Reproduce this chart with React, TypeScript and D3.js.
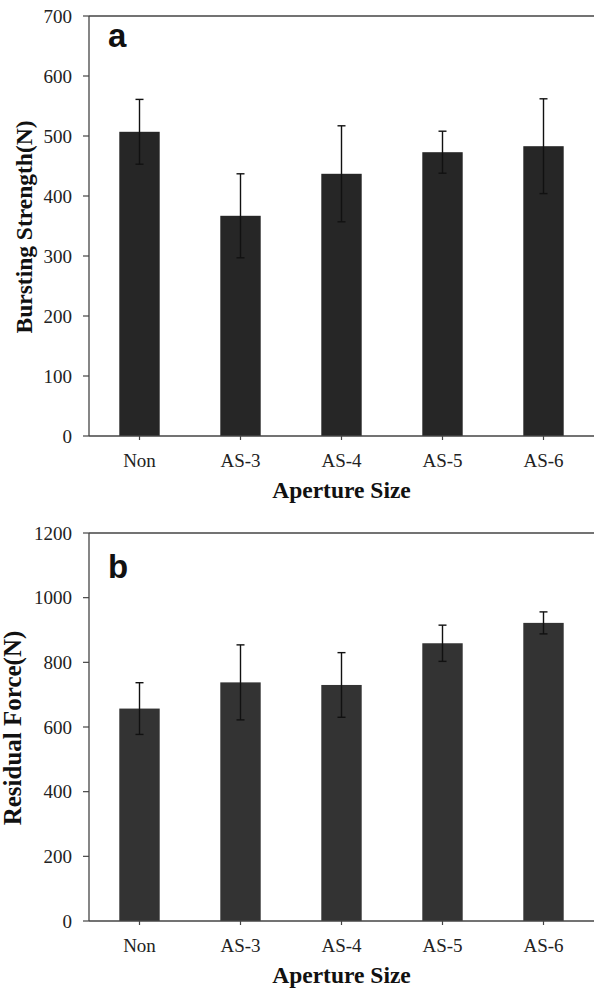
import React from 'react';
import { scaleBand, scaleLinear, range } from 'd3';

const categories = ['Non', 'AS-3', 'AS-4', 'AS-5', 'AS-6'];

const burstMean = [507, 367, 437, 473, 483];
const burstErr = [54, 70, 80, 35, 79];
const burstTicks = range(0, 701, 100);

const residualMean = [657, 738, 730, 859, 922];
const residualErr = [80, 116, 100, 56, 34];
const residualTicks = range(0, 1201, 200);

const W = 594;
const H = 989;
const LEFT = 89;
const SERIF = '"Liberation Serif", "Times New Roman", serif';
const SANS = '"Liberation Sans", Arial, sans-serif';
const AXIS = '#444';

type PanelProps = {
  letter: string;
  letterY: number;
  yTitle: string;
  yTitleX: number;
  yTitleSize: number;
  means: number[];
  errs: number[];
  ticks: number[];
  top: number;
  bottom: number;
  barColor: string;
};

const Panel: React.FC<PanelProps> = ({
  letter,
  letterY,
  yTitle,
  yTitleX,
  yTitleSize,
  means,
  errs,
  ticks,
  top,
  bottom,
  barColor,
}) => {
  const x = scaleBand<string>()
    .domain(categories)
    .range([LEFT, W])
    .paddingInner(0.6)
    .paddingOuter(0.3);
  const y = scaleLinear()
    .domain([0, ticks[ticks.length - 1]])
    .range([bottom, top]);
  const bw = x.bandwidth();
  const cap = 4;

  return (
    <g>
      {/* bars */}
      {categories.map((c, i) => (
        <rect
          key={c}
          x={x(c)}
          y={y(means[i])}
          width={bw}
          height={y(0) - y(means[i])}
          fill={barColor}
        />
      ))}
      {/* error bars */}
      {categories.map((c, i) => {
        const cx = (x(c) ?? 0) + bw / 2;
        const hi = y(means[i] + errs[i]);
        const lo = y(means[i] - errs[i]);
        return (
          <g key={c} stroke="#111" strokeWidth={1.4}>
            <line x1={cx} x2={cx} y1={hi} y2={lo} />
            <line x1={cx - cap} x2={cx + cap} y1={hi} y2={hi} />
            <line x1={cx - cap} x2={cx + cap} y1={lo} y2={lo} />
          </g>
        );
      })}
      {/* frame */}
      <line x1={LEFT} x2={W} y1={top} y2={top} stroke={AXIS} strokeWidth={1.3} />
      <line x1={LEFT} x2={W} y1={bottom} y2={bottom} stroke={AXIS} strokeWidth={1.3} />
      <line x1={LEFT} x2={LEFT} y1={top} y2={bottom} stroke={AXIS} strokeWidth={1.3} />
      {/* y ticks */}
      {ticks.map(t => (
        <g key={t}>
          <line x1={LEFT - 6} x2={LEFT} y1={y(t)} y2={y(t)} stroke={AXIS} strokeWidth={1.2} />
          <text
            x={LEFT - 17}
            y={y(t)}
            dy="0.35em"
            textAnchor="end"
            fontFamily={SERIF}
            fontSize={19}
            fill="#222"
          >
            {t}
          </text>
        </g>
      ))}
      {/* x ticks */}
      {categories.map(c => {
        const cx = (x(c) ?? 0) + bw / 2;
        return (
          <g key={c}>
            <line x1={cx} x2={cx} y1={bottom} y2={bottom + 4} stroke={AXIS} strokeWidth={1.2} />
            <text
              x={cx}
              y={bottom + 31}
              textAnchor="middle"
              fontFamily={SERIF}
              fontSize={19}
              fill="#222"
            >
              {c}
            </text>
          </g>
        );
      })}
      {/* titles */}
      <text
        x={(LEFT + W) / 2}
        y={bottom + 62}
        textAnchor="middle"
        fontFamily={SERIF}
        fontWeight="bold"
        fontSize={23.5}
        fill="#111"
      >
        Aperture Size
      </text>
      <text
        transform={`translate(${yTitleX}, ${(top + bottom) / 2 + 1}) rotate(-90)`}
        textAnchor="middle"
        fontFamily={SERIF}
        fontWeight="bold"
        fontSize={yTitleSize}
        fill="#111"
      >
        {yTitle}
      </text>
      <text x={108} y={letterY} fontFamily={SANS} fontWeight="bold" fontSize={33} fill="#111">
        {letter}
      </text>
    </g>
  );
};

export default function App() {
  return (
    <svg
      width={W}
      height={H}
      viewBox={`0 0 ${W} ${H}`}
      style={{ position: 'absolute', left: 0, top: 0, background: '#fff' }}
    >
      <rect width={W} height={H} fill="#fff" />
      <Panel
        letter="a"
        letterY={47}
        yTitle="Bursting Strength(N)"
        yTitleX={32}
        yTitleSize={23.5}
        means={burstMean}
        errs={burstErr}
        ticks={burstTicks}
        top={16}
        bottom={436}
        barColor="#262626"
      />
      <Panel
        letter="b"
        letterY={578}
        yTitle="Residual Force(N)"
        yTitleX={21}
        yTitleSize={25}
        means={residualMean}
        errs={residualErr}
        ticks={residualTicks}
        top={533}
        bottom={921}
        barColor="#333333"
      />
    </svg>
  );
}
